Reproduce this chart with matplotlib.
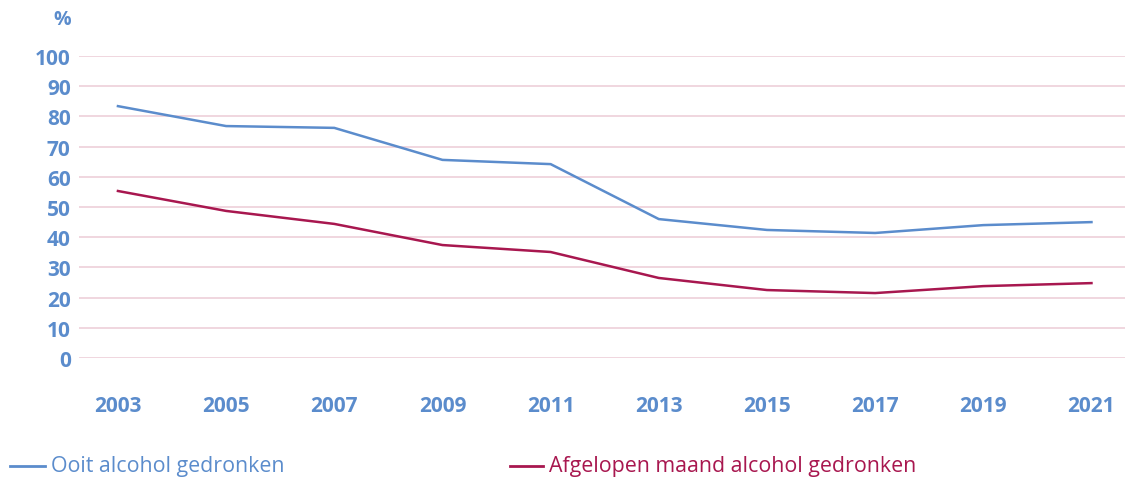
import matplotlib
matplotlib.use('Agg')
import matplotlib.pyplot as plt
from matplotlib.lines import Line2D

years = ['2003', '2005', '2007', '2009', '2011', '2013', '2015', '2017', '2019', '2021']
ooit = [83.4, 76.8, 76.2, 65.6, 64.2, 46.0, 42.4, 41.4, 44.0, 45.0]
maand = [55.3, 48.7, 44.4, 37.4, 35.1, 26.5, 22.5, 21.5, 23.8, 24.8]
yticks = [0, 10, 20, 30, 40, 50, 60, 70, 80, 90, 100]

BLUE = '#5b8ccc'
RED = '#a8174f'
GRID = '#efd3dc'

plt.rcParams['font.family'] = ['Open Sans', 'DejaVu Sans']

W, H = 1125, 481
fig = plt.figure(figsize=(W / 100, H / 100), dpi=100)
ax = fig.add_axes([79 / W, (H - 359) / H, (W - 79) / W, 302 / H])

x = list(range(len(years)))
ax.plot(x, ooit, color=BLUE, lw=1.8, clip_on=False)
ax.plot(x, maand, color=RED, lw=1.8, clip_on=False)

ax.set_ylim(0, 100)
ax.set_xlim(-0.36, 9.31)
ax.set_yticks(yticks)
for v in yticks:
    ax.axhline(v, color=GRID, lw=1.3, zorder=0)
ax.set_xticks(x)
ax.set_xticklabels(years)
ax.tick_params(length=0, labelsize=15, labelcolor=BLUE)
ax.tick_params(axis='y', pad=6)
ax.tick_params(axis='x', pad=27)
for lab in ax.get_xticklabels() + ax.get_yticklabels():
    lab.set_fontweight('bold')
for s in ax.spines.values():
    s.set_visible(False)

fig.text(62 / W, 1 - 20 / H, '%', color=BLUE, fontsize=14, fontweight='bold',
         ha='center', va='center')

# legend drawn by hand along the bottom
ly = 1 - 467 / H
fig.add_artist(Line2D([10 / W, 45 / W], [ly, ly], color=BLUE, lw=2))
fig.text(51 / W, ly, 'Ooit alcohol gedronken', color=BLUE, fontsize=15.4,
         ha='left', va='center')
fig.add_artist(Line2D([510 / W, 543 / W], [ly, ly], color=RED, lw=2))
fig.text(549 / W, ly, 'Afgelopen maand alcohol gedronken', color=RED, fontsize=15.4,
         ha='left', va='center')

fig.savefig('out.png', dpi=100)
